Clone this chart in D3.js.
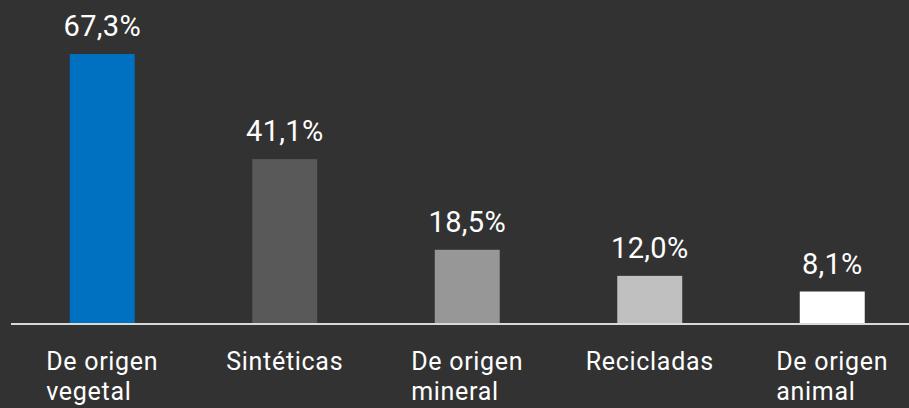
<!DOCTYPE html>
<html>
<head>
<meta charset="utf-8">
<script src="https://cdn.jsdelivr.net/npm/d3@7"></script>
<style>
  html, body { margin: 0; padding: 0; background: #323232; }
  svg { display: block; }
  text { font-family: Roboto, "Noto Sans", sans-serif; fill: #ffffff; }
</style>
</head>
<body>
<svg id="chart" width="909" height="408"></svg>
<script>
const categories = [["De origen", "vegetal"], ["Sintéticas"], ["De origen", "mineral"], ["Recicladas"], ["De origen", "animal"]];
const values = [67.3, 41.1, 18.5, 12.0, 8.1];
const valueLabels = ["67,3%", "41,1%", "18,5%", "12,0%", "8,1%"];
const colors = ["#0070c0", "#595959", "#979797", "#c0c0c0", "#ffffff"];

const W = 909, H = 408;
const svg = d3.select("#chart");
svg.append("rect").attr("width", W).attr("height", H).attr("fill", "#323232");

const keys = categories.map(c => c.join(" "));
const x = d3.scaleBand().domain(keys).range([11, 923.5]).paddingInner(0.644).paddingOuter(0.322);
const y = d3.scaleLinear().domain([0, 67.3]).range([324, 54]);

const data = keys.map((k, i) => ({ k, lines: categories[i], v: values[i], label: valueLabels[i], color: colors[i] }));

svg.selectAll("rect.bar").data(data).enter().append("rect")
  .attr("class", "bar")
  .attr("x", d => x(d.k))
  .attr("width", x.bandwidth())
  .attr("y", d => y(d.v))
  .attr("height", d => y(0) - y(d.v))
  .attr("fill", d => d.color);

svg.append("line")
  .attr("x1", 11).attr("x2", W)
  .attr("y1", y(0)).attr("y2", y(0))
  .attr("stroke", "#d9d9d9").attr("stroke-width", 2);

svg.selectAll("text.val").data(data).enter().append("text")
  .attr("class", "val")
  .attr("x", d => x(d.k) + x.bandwidth() / 2)
  .attr("y", d => y(d.v) - 18)
  .attr("text-anchor", "middle")
  .attr("font-size", 29)
  .attr("font-weight", 400)
  .attr("letter-spacing", 0.3)
  .text(d => d.label);

const cats = svg.selectAll("g.cat").data(data).enter().append("g").attr("class", "cat");
cats.each(function (d) {
  const g = d3.select(this);
  const ts = d.lines.map((ln, j) => g.append("text")
    .attr("y", y(0) + 46 + j * 30)
    .attr("font-size", 25)
    .attr("letter-spacing", 0.7)
    .text(ln));
  const maxW = d3.max(ts, t => t.node().getComputedTextLength());
  const cx = x(d.k) + x.bandwidth() / 2;
  ts.forEach(t => t.attr("x", cx - maxW / 2));
});
</script>
</body>
</html>
